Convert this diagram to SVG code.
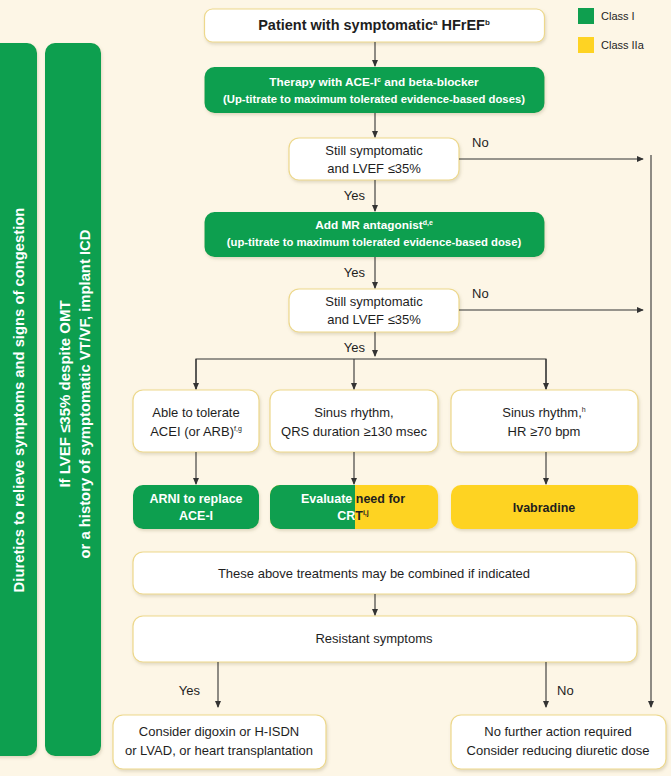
<svg xmlns="http://www.w3.org/2000/svg" width="671" height="776" viewBox="0 0 671 776">
<defs>
<style>
.bg{fill:#FDF6E6}
.wbox{fill:#FFFFFF;stroke:#EDD88C;stroke-width:1.2}
.gbox{fill:#0F9F4F}
.ybox{fill:#FED323}
.t{font-family:"Liberation Sans",Arial,sans-serif;font-size:13px;fill:#1E1E1E;text-anchor:middle}
.tb{font-family:"Liberation Sans",Arial,sans-serif;font-weight:bold;text-anchor:middle}
.w{fill:#FFFFFF}
.d{fill:#1E1E1E}
.lbl{font-family:"Liberation Sans",Arial,sans-serif;font-size:13px;fill:#1E1E1E}
.ln{stroke:#333333;stroke-width:1.1;fill:none}
.ar{stroke:#333333;stroke-width:1.1;fill:none;marker-end:url(#ah)}
</style>
<marker id="ah" viewBox="0 0 8 8" refX="7" refY="4" markerWidth="7" markerHeight="7" markerUnits="userSpaceOnUse" orient="auto">
<path d="M0,0.5 L8,4 L0,7.5 Z" fill="#333333"/>
</marker>
<filter id="sh" x="-10%" y="-20%" width="120%" height="150%">
<feDropShadow dx="1" dy="2" stdDeviation="1.5" flood-color="#8a7a50" flood-opacity="0.25"/>
</filter>
<clipPath id="cl"><rect x="260" y="480" width="95" height="60"/></clipPath>
<clipPath id="cr"><rect x="355" y="480" width="95" height="60"/></clipPath>
</defs>
<rect class="bg" x="0" y="0" width="671" height="776"/>

<g id="legend">
<rect x="578" y="8" width="16" height="16" class="gbox"/>
<text x="601" y="20" class="lbl" style="font-size:11px">Class I</text>
<rect x="578" y="37" width="16" height="16" class="ybox"/>
<text x="601" y="49" class="lbl" style="font-size:11px">Class IIa</text>
</g>

<g id="bar-diuretics">
<rect x="-12" y="43" width="49" height="713" rx="10" class="gbox" filter="url(#sh)"/>
<text class="tb w" style="font-size:14.8px" transform="translate(23.5,400) rotate(-90)">Diuretics to relieve symptoms and signs of congestion</text>
</g>
<g id="bar-icd">
<rect x="45" y="43" width="56" height="713" rx="10" class="gbox" filter="url(#sh)"/>
<text class="tb w" style="font-size:15px" transform="translate(70,394) rotate(-90)">If LVEF ≤35% despite OMT</text>
<text class="tb w" style="font-size:14.8px" transform="translate(90,394) rotate(-90)">or a history of symptomatic VT/VF, implant ICD</text>
</g>

<g id="n-patient">
<rect x="204.5" y="9" width="340" height="33" rx="8" class="wbox" filter="url(#sh)"/>
<text x="374" y="30" class="tb d" style="font-size:14.5px">Patient with symptomatic<tspan font-size="8" dy="-5">a</tspan><tspan dy="5"> HFrEF</tspan><tspan font-size="8" dy="-5">b</tspan></text>
</g>

<g id="n-therapy">
<rect x="204.5" y="67" width="340" height="46" rx="10" class="gbox" filter="url(#sh)"/>
<text x="374" y="86" class="tb w" style="font-size:11.8px">Therapy with ACE-I<tspan font-size="7" dy="-4">c</tspan><tspan dy="4"> and beta-blocker</tspan></text>
<text x="374" y="103" class="tb w" style="font-size:11.3px">(Up-titrate to maximum tolerated evidence-based doses)</text>
</g>

<g id="n-dec1">
<rect x="289" y="138" width="170" height="42" rx="10" class="wbox" filter="url(#sh)"/>
<text x="374" y="155" class="t">Still symptomatic</text>
<text x="374" y="173" class="t">and LVEF ≤35%</text>
</g>

<g id="n-mra">
<rect x="204.5" y="212" width="340" height="45" rx="10" class="gbox" filter="url(#sh)"/>
<text x="374" y="229" class="tb w" style="font-size:11.8px">Add MR antagonist<tspan font-size="7" dy="-4">d,e</tspan></text>
<text x="374" y="246" class="tb w" style="font-size:11.3px">(up-titrate to maximum tolerated evidence-based dose)</text>
</g>

<g id="n-dec2">
<rect x="289" y="289" width="170" height="43" rx="10" class="wbox" filter="url(#sh)"/>
<text x="374" y="306" class="t">Still symptomatic</text>
<text x="374" y="324" class="t">and LVEF ≤35%</text>
</g>

<g id="n-acei">
<rect x="133" y="390" width="126" height="62" rx="10" class="wbox" filter="url(#sh)"/>
<text x="196" y="417" class="t">Able to tolerate</text>
<text x="196" y="436" class="t">ACEI (or ARB)<tspan font-size="7" dy="-5">f,g</tspan></text>
</g>

<g id="n-sinus-qrs">
<rect x="270" y="390" width="168" height="62" rx="10" class="wbox" filter="url(#sh)"/>
<text x="354" y="417" class="t">Sinus rhythm,</text>
<text x="354" y="436" class="t">QRS duration ≥130 msec</text>
</g>

<g id="n-sinus-hr">
<rect x="451" y="390" width="187" height="62" rx="10" class="wbox" filter="url(#sh)"/>
<text x="544" y="417" class="t">Sinus rhythm,<tspan font-size="7" dy="-5">h</tspan></text>
<text x="544" y="436" class="t">HR ≥70 bpm</text>
</g>

<g id="n-arni">
<rect x="133" y="485" width="126" height="44" rx="10" class="gbox" filter="url(#sh)"/>
<text x="196" y="503" class="tb w" style="font-size:12.5px">ARNI to replace</text>
<text x="196" y="520" class="tb w" style="font-size:12.5px">ACE-I</text>
</g>

<g id="n-crt">
<rect x="270" y="485" width="168" height="44" rx="10" class="ybox" filter="url(#sh)"/>
<rect x="270" y="485" width="168" height="44" rx="10" class="gbox" clip-path="url(#cl)"/>
<g clip-path="url(#cl)">
<text x="353" y="503" class="tb w" style="font-size:12.5px">Evaluate need for</text>
<text x="353" y="520" class="tb w" style="font-size:12.5px">CRT<tspan font-size="7" dy="-5">i,j</tspan></text>
</g>
<g clip-path="url(#cr)">
<text x="353" y="503" class="tb d" style="font-size:12.5px">Evaluate need for</text>
<text x="353" y="520" class="tb d" style="font-size:12.5px">CRT<tspan font-size="7" dy="-5">i,j</tspan></text>
</g>
</g>

<g id="n-ivabradine">
<rect x="451" y="485" width="187" height="44" rx="10" class="ybox" filter="url(#sh)"/>
<text x="544" y="512" class="tb d" style="font-size:12.5px">Ivabradine</text>
</g>

<g id="n-combined">
<rect x="133" y="552" width="503" height="42" rx="10" class="wbox" filter="url(#sh)"/>
<text x="374" y="578" class="t">These above treatments may be combined if indicated</text>
</g>

<g id="n-resistant">
<rect x="133" y="616" width="504" height="46" rx="10" class="wbox" filter="url(#sh)"/>
<text x="374" y="643" class="t">Resistant symptoms</text>
</g>

<g id="n-digoxin">
<rect x="113" y="715" width="213" height="54" rx="10" class="wbox" filter="url(#sh)"/>
<text x="219" y="736" class="t">Consider digoxin or H-ISDN</text>
<text x="219" y="755" class="t">or LVAD, or heart transplantation</text>
</g>

<g id="n-nofurther">
<rect x="451" y="715" width="215" height="54" rx="10" class="wbox" filter="url(#sh)"/>
<text x="558" y="736" class="t">No further action required</text>
<text x="558" y="755" class="t">Consider reducing diuretic dose</text>
</g>

<g id="connectors">
<line class="ar" x1="375" y1="42" x2="375" y2="66"/>
<line class="ar" x1="375" y1="113" x2="375" y2="137"/>
<line class="ar" x1="375" y1="180" x2="375" y2="211"/>
<line class="ar" x1="459" y1="159" x2="643" y2="159"/>
<line class="ar" x1="375" y1="257" x2="375" y2="288"/>
<line class="ar" x1="459" y1="310" x2="643" y2="310"/>
<line class="ar" x1="375" y1="332" x2="375" y2="356"/>
<polyline class="ln" points="196,389 196,359 546,359 546,389"/>
<line class="ar" x1="196" y1="359" x2="196" y2="389"/>
<line class="ar" x1="354" y1="359" x2="354" y2="389"/>
<line class="ar" x1="546" y1="359" x2="546" y2="389"/>
<line class="ar" x1="196" y1="452" x2="196" y2="484"/>
<line class="ar" x1="354" y1="452" x2="354" y2="484"/>
<line class="ar" x1="546" y1="452" x2="546" y2="484"/>
<line class="ar" x1="375" y1="594" x2="375" y2="615"/>
<line class="ar" x1="218" y1="662" x2="218" y2="707"/>
<line class="ar" x1="546" y1="662" x2="546" y2="707"/>
<line class="ar" x1="651" y1="155" x2="651" y2="707"/>
<text x="472" y="147" class="lbl">No</text>
<text x="365" y="200" class="lbl" text-anchor="end">Yes</text>
<text x="365" y="277" class="lbl" text-anchor="end">Yes</text>
<text x="472" y="298" class="lbl">No</text>
<text x="365" y="352" class="lbl" text-anchor="end">Yes</text>
<text x="200" y="695" class="lbl" text-anchor="end">Yes</text>
<text x="557" y="695" class="lbl">No</text>
</g>
</svg>
